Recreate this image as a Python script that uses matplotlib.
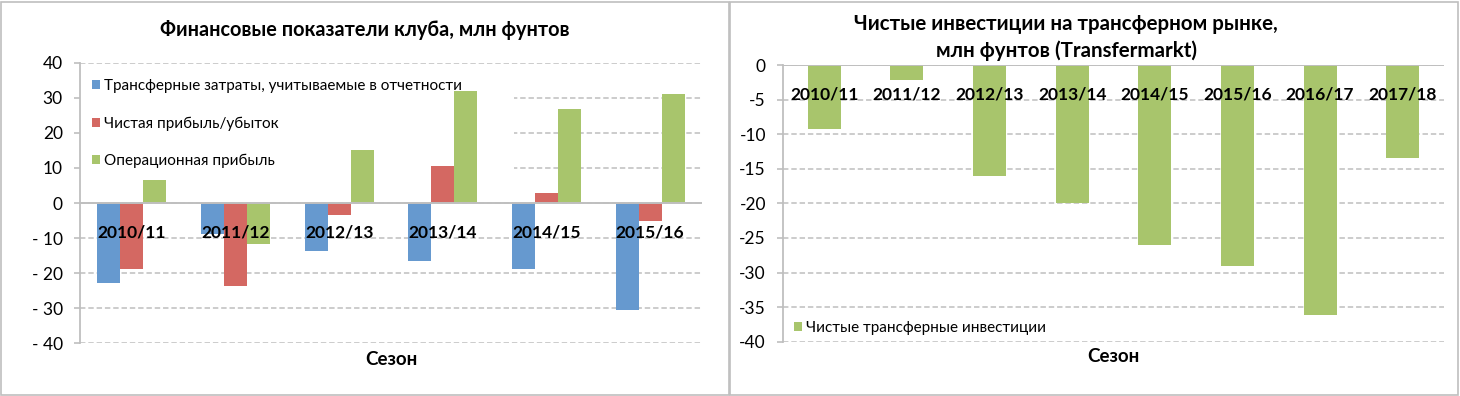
import matplotlib
matplotlib.use("Agg")
import matplotlib.pyplot as plt
from matplotlib.patches import Rectangle
import numpy as np

plt.rcParams['font.family'] = ['Lato', 'DejaVu Sans']

# ---------------- data ----------------
seasons_left = ["2010/11", "2011/12", "2012/13", "2013/14", "2014/15", "2015/16"]
transfer_costs = [-22.8, -8.8, -13.6, -16.5, -18.7, -30.4]
net_profit = [-18.7, -23.8, -3.3, 10.5, 2.8, -5.0]
operating_profit = [6.6, -11.7, 15.0, 31.9, 26.9, 31.2]
left_series_names = ["Трансферные затраты, учитываемые в отчетности",
                     "Чистая прибыль/убыток",
                     "Операционная прибыль"]
left_ticks = [40, 30, 20, 10, 0, -10, -20, -30, -40]
left_tick_labels = ["40", "30", "20", "10", "0", "- 10", "- 20", "- 30", "- 40"]

seasons_right = ["2010/11", "2011/12", "2012/13", "2013/14", "2014/15", "2015/16", "2016/17", "2017/18"]
net_transfer = [-9.25, -2.1, -16.0, -19.95, -26.0, -29.0, -36.1, -13.5]
right_series_name = "Чистые трансферные инвестиции"
right_ticks = [0, -5, -10, -15, -20, -25, -30, -35, -40]
right_tick_labels = ["0", "-5", "-10", "-15", "-20", "-25", "-30", "-35", "-40"]

title_left = "Финансовые показатели клуба, млн фунтов"
title_right = "Чистые инвестиции на трансферном рынке,\nмлн фунтов (Transfermarkt)"
xlabel = "Сезон"

# ---------------- style ----------------
BLUE = "#6699CF"
RED = "#D46862"
GREEN = "#A8C56C"
GRID = "#c8c8c8"
AXIS = "#bfbfbf"

W, H = 1460, 396
fig = plt.figure(figsize=(W / 100, H / 100), dpi=100)
fig.patch.set_facecolor("white")

def px_axes(x0, x1, ytop, ybot):
    return [x0 / W, 1 - ybot / H, (x1 - x0) / W, (ybot - ytop) / H]

def style_axes(ax, ticks, labels, ylim):
    ax.set_ylim(*ylim)
    ax.set_yticks(ticks)
    ax.set_yticklabels(labels, fontsize=12.5)
    ax.set_xticks([])
    for s in ["top", "right", "bottom"]:
        ax.spines[s].set_visible(False)
    ax.spines["left"].set_color(AXIS)
    ax.spines["left"].set_linewidth(1.3)
    ax.tick_params(axis="y", length=4.3, width=1.2, color=AXIS, pad=8, direction="out")
    ax.yaxis.grid(True, linestyle=(0, (3, 1.6)), color=GRID, linewidth=1.3)
    ax.set_axisbelow("line")
    ax.axhline(0, color=AXIS, linewidth=1.4, zorder=3)

# ---------------- left chart ----------------
axL = fig.add_axes(px_axes(80, 702, 62.7, 343.3))
xL = np.arange(len(seasons_left))
bw = 0.222
axL.bar(xL - bw, transfer_costs, bw, color=BLUE, zorder=2, label=left_series_names[0])
axL.bar(xL, net_profit, bw, color=RED, zorder=2, label=left_series_names[1])
axL.bar(xL + bw, operating_profit, bw, color=GREEN, zorder=2, label=left_series_names[2])
axL.set_xlim(-0.5, len(seasons_left) - 0.5)
style_axes(axL, left_ticks, left_tick_labels, (-40, 40))
for i, s in enumerate(seasons_left):
    axL.annotate(s, xy=(i, 0), xytext=(0, -21.6), textcoords="offset points",
                 ha="center", va="center", fontsize=12.5, fontweight="bold", zorder=5)
legL = axL.legend(loc="upper left", bbox_to_anchor=(0, 0, 0.698, 0.985), mode="expand",
                  borderaxespad=0, borderpad=0.8, frameon=True, fancybox=False,
                  facecolor="white", edgecolor="none", framealpha=1,
                  fontsize=11, handlelength=0.5, handleheight=0.5, handletextpad=0.3,
                  labelspacing=1.52)
legL.set_zorder(1.7)
axL.text(0.5, -0.056, xlabel, transform=axL.transAxes, ha="center", va="center",
         fontsize=13.5, fontweight="bold")
fig.text(364.5 / W, 1 - 30 / H, title_left, ha="center", va="center",
         fontsize=14.3, fontweight="bold")

# ---------------- right chart ----------------
axR = fig.add_axes(px_axes(783, 1444, 65, 341.7))
xR = np.arange(len(seasons_right))
axR.bar(xR, net_transfer, 0.4, color=GREEN, zorder=2, label=right_series_name)
axR.set_xlim(-0.5, len(seasons_right) - 0.5)
style_axes(axR, right_ticks, right_tick_labels, (-40, 0))
for i, s in enumerate(seasons_right):
    axR.annotate(s, xy=(i, 0), xytext=(0, -21.6), textcoords="offset points",
                 ha="center", va="center", fontsize=12.5, fontweight="bold", zorder=5)
legR = axR.legend(loc="center left", bbox_to_anchor=(0.0166, 0.0495), borderaxespad=0,
                  borderpad=0, frameon=False, fontsize=11, handlelength=0.5,
                  handleheight=0.5, handletextpad=0.3)
axR.text(0.5, -0.055, xlabel, transform=axR.transAxes, ha="center", va="center",
         fontsize=13.5, fontweight="bold")
fig.text(1066 / W, 1 - 37.5 / H, title_right, ha="center", va="center",
         fontsize=14.8, fontweight="bold", linespacing=1.42)

# ---------------- panel borders ----------------
fig.add_artist(Rectangle((1 / W, 1 / H), 728 / W, 393 / H, transform=fig.transFigure,
                         fill=False, edgecolor=AXIS, linewidth=1.2))
fig.add_artist(Rectangle((730 / W, 1 / H), 728 / W, 393 / H, transform=fig.transFigure,
                         fill=False, edgecolor=AXIS, linewidth=1.2))

fig.savefig("out.png", dpi=100, facecolor="white")
